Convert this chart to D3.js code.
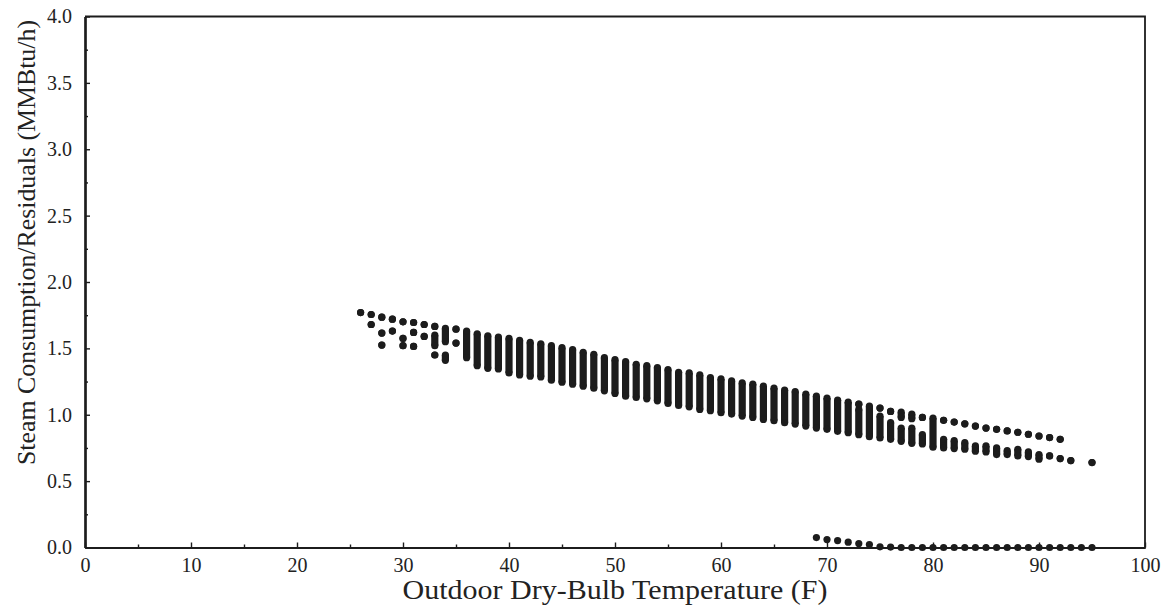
<!DOCTYPE html>
<html>
<head>
<meta charset="utf-8">
<script src="https://cdn.jsdelivr.net/npm/d3@7"></script>
<style>
  html, body { margin: 0; padding: 0; background: #fff; }
  svg { display: block; }
  text { font-family: "Liberation Serif", "DejaVu Serif", serif; fill: #222; }
</style>
</head>
<body>
<svg id="chart" width="1165" height="611"></svg>
<script>
// ---- Data ----
// Steam consumption: each entry is a vertical run of points at one temperature,
// from steamHigh down to steamLow (equal values = one isolated point).
const steamTemp = [26,27,27,28,28,28,29,29,30,30,30,31,31,31,32,32,33,33,33,34,34,35,35,
  36,37,38,39,40,41,42,43,44,45,46,47,48,49,50,51,52,53,54,55,56,57,58,59,60,61,62,63,64,65,
  66,67,68,69,70,71,72,73,73,74,75,75,76,76,77,77,78,78,79,79,80,81,81,82,82,83,83,84,84,
  85,85,86,86,87,87,88,88,89,89,90,90,91,91,92,92,93,95];
const steamHigh = [1.77,1.755,1.68,1.735,1.615,1.525,1.72,1.63,1.70,1.575,1.52,1.695,1.62,1.515,1.68,1.59,1.665,1.60,1.45,1.65,1.45,1.645,1.54,
  1.63,1.61,1.595,1.585,1.575,1.56,1.545,1.535,1.52,1.505,1.49,1.47,1.455,1.43,1.415,1.40,1.38,1.37,1.355,1.34,1.32,1.315,1.30,1.28,1.27,1.255,1.24,1.23,1.215,1.20,
  1.185,1.175,1.155,1.14,1.125,1.11,1.095,1.08,1.04,1.065,1.05,0.99,1.025,0.94,1.02,0.90,1.005,0.90,0.98,0.85,0.975,0.958,0.815,0.945,0.805,0.932,0.79,0.915,0.765,
  0.90,0.765,0.89,0.75,0.878,0.73,0.868,0.74,0.853,0.72,0.84,0.70,0.828,0.69,0.815,0.67,0.655,0.64];
const steamLow = [1.77,1.755,1.68,1.735,1.615,1.525,1.72,1.63,1.70,1.575,1.52,1.695,1.62,1.515,1.68,1.59,1.665,1.52,1.45,1.55,1.41,1.645,1.54,
  1.43,1.37,1.35,1.345,1.315,1.30,1.29,1.285,1.26,1.245,1.23,1.215,1.20,1.18,1.16,1.14,1.13,1.12,1.105,1.085,1.07,1.06,1.04,1.03,1.015,1.005,0.99,0.98,0.965,0.955,
  0.94,0.93,0.915,0.90,0.89,0.875,0.865,1.08,0.85,0.835,1.05,0.825,1.025,0.815,0.98,0.80,0.97,0.785,0.98,0.78,0.755,0.958,0.75,0.945,0.745,0.932,0.74,0.915,0.725,
  0.90,0.72,0.89,0.70,0.878,0.70,0.868,0.69,0.853,0.685,0.84,0.665,0.828,0.69,0.815,0.67,0.655,0.64];

// Residuals near zero
const residualTemp  = [69,70,71,72,73,74,75,76,77,78,79,80,81,82,83,84,85,86,87,88,89,90,91,92,93,94,95];
const residualValue = [0.075,0.06,0.052,0.04,0.03,0.022,0.005,0.003,0,0,0,0,0,0,0,0,0,0,0,0,0,0,0,0,0,0,0];

const xTicks = [0,10,20,30,40,50,60,70,80,90,100];
const xMinorTicks = [5,15,25,35,45,55,65,75,85,95];
const yTicks = [0,0.5,1.0,1.5,2.0,2.5,3.0,3.5,4.0];
const yMinorTicks = [0.25,0.75,1.25,1.75,2.25,2.75,3.25,3.75];

const xTitle = "Outdoor Dry-Bulb Temperature (F)";
const yTitle = "Steam Consumption/Residuals (MMBtu/h)";

// ---- Layout ----
const svg = d3.select("#chart");
const L = 85, R = 1145, T = 16.5, B = 547.5;
const x = d3.scaleLinear().domain([0, 100]).range([L, R]);
const y = d3.scaleLinear().domain([0, 4]).range([B, T]);
const r = 3.6;
const ink = "#1c1c1c";

// frame (top & right)
svg.append("path")
  .attr("d", `M${L},${T} H${R} V${B}`)
  .attr("fill", "none").attr("stroke", ink).attr("stroke-width", 1.8);

// axes
const xAxis = svg.append("g").attr("transform", `translate(0,${B})`)
  .call(d3.axisBottom(x).tickValues(xTicks).tickFormat(d3.format("d"))
    .tickSizeInner(-5).tickSizeOuter(0).tickPadding(10));
const xMinor = svg.append("g").attr("transform", `translate(0,${B})`)
  .call(d3.axisBottom(x).tickValues(xMinorTicks).tickFormat("")
    .tickSizeInner(-3).tickSizeOuter(0));
const yAxis = svg.append("g").attr("transform", `translate(${L},0)`)
  .call(d3.axisLeft(y).tickValues(yTicks).tickFormat(d3.format(".1f"))
    .tickSizeInner(-5).tickSizeOuter(0).tickPadding(13));
const yMinor = svg.append("g").attr("transform", `translate(${L},0)`)
  .call(d3.axisLeft(y).tickValues(yMinorTicks).tickFormat("")
    .tickSizeInner(-3).tickSizeOuter(0));

[xAxis, xMinor, yAxis, yMinor].forEach(g => {
  g.select(".domain").attr("stroke", ink).attr("stroke-width", 2.2);
  g.selectAll(".tick line").attr("stroke", ink).attr("stroke-width", 1.4);
  g.selectAll(".tick text").attr("font-family", "Liberation Serif, serif")
    .attr("font-size", 20).attr("fill", "#222");
});

// axis titles
svg.append("text")
  .attr("x", x(50)).attr("y", 599)
  .attr("text-anchor", "middle")
  .attr("font-size", 27)
  .attr("textLength", 425).attr("lengthAdjust", "spacingAndGlyphs")
  .text(xTitle);

svg.append("text")
  .attr("transform", `translate(35,${(20 + 465) / 2}) rotate(-90)`)
  .attr("text-anchor", "middle")
  .attr("font-size", 26)
  .attr("textLength", 445).attr("lengthAdjust", "spacingAndGlyphs")
  .text(yTitle);

// steam consumption runs
const runs = steamTemp.map((t, i) => ({ t, hi: steamHigh[i], lo: steamLow[i] }));
const gRuns = svg.append("g").attr("fill", ink);
gRuns.selectAll("rect.run").data(runs.filter(d => d.hi > d.lo)).join("rect")
  .attr("class", "run")
  .attr("x", d => x(d.t) - r)
  .attr("width", 2 * r)
  .attr("y", d => y(d.hi))
  .attr("height", d => y(d.lo) - y(d.hi));
gRuns.selectAll("circle.hi").data(runs).join("circle")
  .attr("class", "hi").attr("cx", d => x(d.t)).attr("cy", d => y(d.hi)).attr("r", r);
gRuns.selectAll("circle.lo").data(runs).join("circle")
  .attr("class", "lo").attr("cx", d => x(d.t)).attr("cy", d => y(d.lo)).attr("r", r);

// residuals
svg.append("g").attr("fill", ink)
  .selectAll("circle").data(residualTemp.map((t, i) => ({ t, v: residualValue[i] }))).join("circle")
  .attr("cx", d => x(d.t)).attr("cy", d => y(d.v)).attr("r", r);
</script>
</body>
</html>
